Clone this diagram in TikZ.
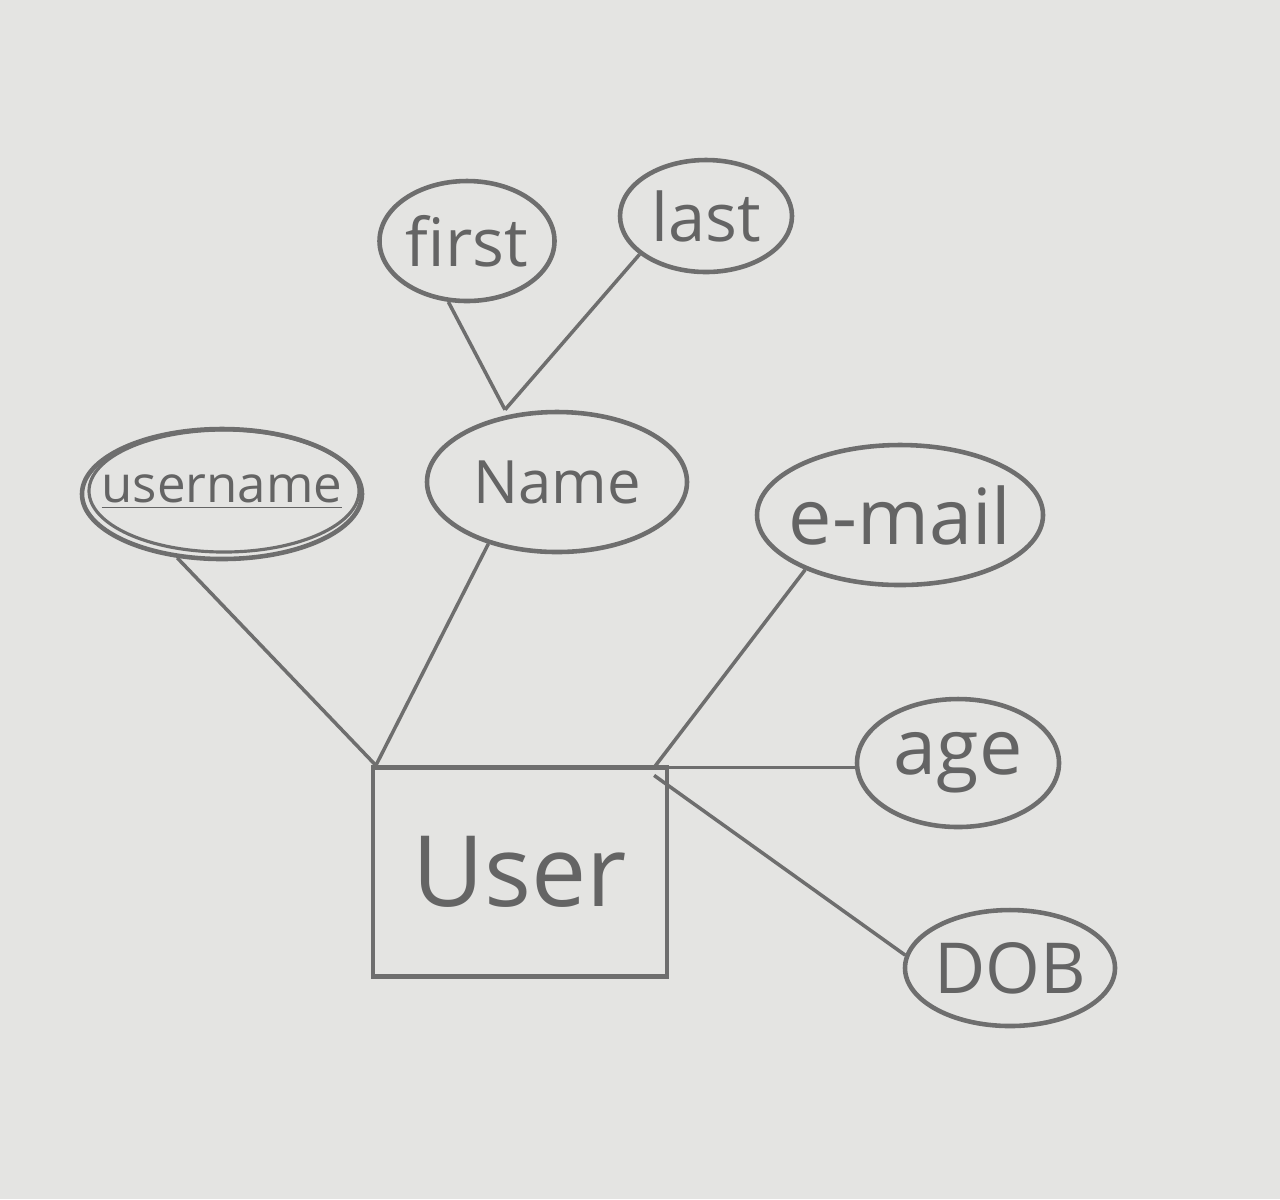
\documentclass[tikz,border=0pt]{standalone}
\usepackage{fontspec}
\setmainfont{Open Sans}
\usetikzlibrary{shapes.geometric}
\definecolor{paper}{RGB}{228,228,226}
\definecolor{pencil}{RGB}{110,110,110}
\definecolor{ink}{RGB}{100,100,100}
\tikzset{
  attr/.style={ellipse, draw=pencil, line width=1.3pt, inner sep=0pt},
  lbl/.style={text=ink, inner sep=0pt},
  link/.style={draw=pencil, line width=1pt},
  entity/.style={rectangle, draw=pencil, line width=1.2pt, inner sep=0pt, text=ink}
}
\begin{document}
\begin{tikzpicture}[x=0.01cm, y=-0.01cm]
\useasboundingbox (0,0) rectangle (1280,1199);
\fill[paper] (0,0) rectangle (1280,1199);
% entity
\node[entity, minimum width=294*0.01cm, minimum height=209*0.01cm] (user) at (520,872)
  {\fontsize{28}{28}\selectfont User};
% attributes (shapes)
\node[attr, minimum width=280*0.01cm, minimum height=130*0.01cm] (username) at (222,494) {};
\draw[pencil, line width=0.9pt] (224,491) ellipse [x radius=135, y radius=61];
\node[attr, minimum width=260*0.01cm, minimum height=140*0.01cm] (name) at (557,482) {};
\node[attr, minimum width=175*0.01cm, minimum height=120*0.01cm] (first) at (467,241) {};
\node[attr, minimum width=172*0.01cm, minimum height=112*0.01cm] (last) at (706,216) {};
\node[attr, minimum width=286*0.01cm, minimum height=140*0.01cm] (email) at (900,515) {};
\node[attr, minimum width=202*0.01cm, minimum height=128*0.01cm] (age) at (958,763) {};
\node[attr, minimum width=210*0.01cm, minimum height=116*0.01cm] (dob) at (1010,968) {};
% labels
\node[lbl] (usernameT) at (222,492) {\fontsize{14.5}{14.5}\selectfont \underline{username}};
\node[lbl] (nameT) at (name) {\fontsize{17}{17}\selectfont Name};
\node[lbl] (firstT) at (first) {\fontsize{19}{19}\selectfont first};
\node[lbl] (lastT) at (last) {\fontsize{19}{19}\selectfont last};
\node[lbl] (emailT) at (email) {\fontsize{22}{22}\selectfont e-mail};
\node[lbl] (ageT) at (age) {\fontsize{22}{22}\selectfont age};
\node[lbl] (dobT) at (dob) {\fontsize{20}{20}\selectfont DOB};
% connectors
\coordinate (ul) at ([xshift=5*0.01cm]user.north west);
\coordinate (ur) at ([xshift=-15*0.01cm,yshift=-2*0.01cm]user.north east);
\coordinate (nametop) at ([xshift=-52*0.01cm]name.north);
\draw[link] (username.-125) -- (ul);
\draw[link] (name.-138) -- (ul);
\draw[link] (first.-107) -- (nametop);
\draw[link] (last.-150) -- (nametop);
\draw[link] (email.-150) -- (ur);
\draw[link] (ur) -- (age.west |- ur);
\draw[link] ([yshift=-8*0.01cm]ur) -- (dob.173);
\end{tikzpicture}
\end{document}
